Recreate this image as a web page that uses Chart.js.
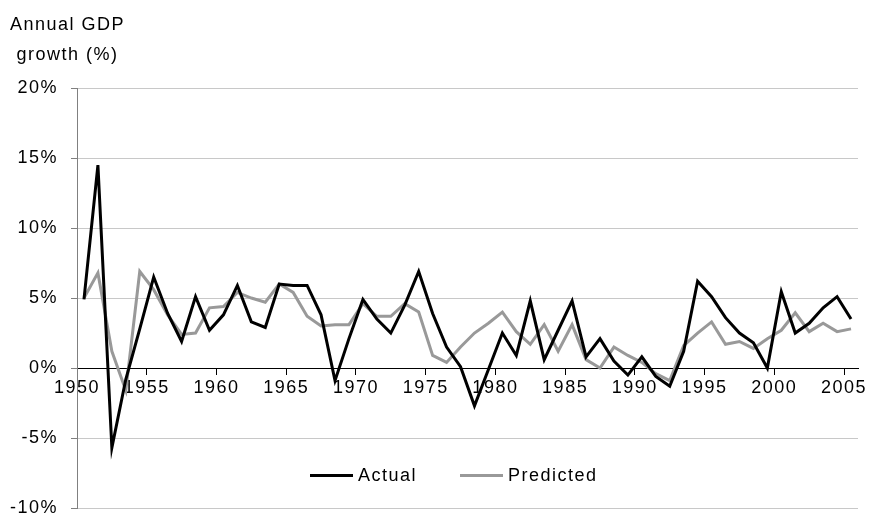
<!DOCTYPE html>
<html>
<head>
<meta charset="utf-8">
<script src="https://cdn.jsdelivr.net/npm/chart.js@4.4.1/dist/chart.umd.min.js"></script>
<style>
  body { margin: 0; background: #fff; }
  #wrap { position: relative; width: 876px; height: 515px; }
  #legend {
    position: absolute; left: 310px; top: 465px;
    display: flex; align-items: center;
    font: 18px "Liberation Sans", Arial, sans-serif; letter-spacing: 1.5px; color: #000;
  }
  #legend .item { display: flex; align-items: center; margin-right: 43px; }
  #legend .swatch { width: 43px; height: 3px; margin-right: 5px; }
</style>
</head>
<body>
<div id="wrap">
  <canvas id="graficoPIB" width="876" height="515"></canvas>
  <div id="legend"></div>
</div>
<script>
// Dados
var anos = [];
for (var a = 1950; a <= 2005; a++) anos.push(a);

var actual = [4.9, 14.5, -5.7, -0.8, 2.8, 6.5, 3.9, 1.9, 5.1, 2.7,
              3.8, 5.9, 3.3, 2.9, 6.0, 5.9, 5.9, 3.8, -0.9, 2.1,
              4.9, 3.5, 2.5, 4.5, 6.9, 3.9, 1.5, 0.1, -2.7, -0.1,
              2.5, 0.9, 4.8, 0.6, 2.7, 4.8, 0.8, 2.1, 0.5, -0.5,
              0.8, -0.6, -1.3, 1.2, 6.2, 5.1, 3.6, 2.5, 1.8, 0.0,
              5.45, 2.5, 3.2, 4.3, 5.1, 3.5];

var predicted = [5.0, 6.8, 1.2, -1.6, 6.9, 5.6, 3.8, 2.4, 2.5, 4.3,
                 4.4, 5.4, 5.0, 4.7, 6.0, 5.4, 3.7, 3.0, 3.1, 3.1,
                 4.6, 3.7, 3.7, 4.6, 4.0, 0.9, 0.4, 1.5, 2.5, 3.2,
                 4.0, 2.6, 1.7, 3.1, 1.2, 3.1, 0.6, 0.0, 1.5, 0.9,
                 0.4, -0.4, -0.9, 1.6, 2.5, 3.3, 1.7, 1.9, 1.4, 2.1,
                 2.7, 3.95, 2.6, 3.2, 2.6, 2.8];

var anosRotulo = [1950, 1955, 1960, 1965, 1970, 1975, 1980, 1985, 1990, 1995, 2000, 2005];
var ticksY = [-10, -5, 0, 5, 10, 15, 20];

var fonte = { family: '"Liberation Sans", Arial, sans-serif', size: 18 };

// espaçamento das letras no canvas
var espacamento = {
    id: 'espacamento',
    beforeUpdate: function (chart) { chart.ctx.letterSpacing = '1.5px'; },
    beforeDraw: function (chart) { chart.ctx.letterSpacing = '1.5px'; }
};

var ctxPIB = document.getElementById('graficoPIB').getContext('2d');
var grafico = new Chart(ctxPIB, {
    type: 'line',
    data: {
        datasets: [
            {
                label: 'Actual',
                data: anos.map(function (a, i) { return { x: a, y: actual[i] }; }),
                borderColor: '#000000',
                backgroundColor: '#000000',
                borderWidth: 3,
                pointRadius: 0,
                tension: 0
            },
            {
                label: 'Predicted',
                data: anos.map(function (a, i) { return { x: a, y: predicted[i] }; }),
                borderColor: '#999999',
                backgroundColor: '#999999',
                borderWidth: 3,
                pointRadius: 0,
                tension: 0
            }
        ]
    },
    plugins: [espacamento],
    options: {
        responsive: false,
        animation: false,
        layout: { padding: { left: 10, right: 18, top: 0, bottom: 0 } },
        plugins: {
            legend: { display: false },
            tooltip: { enabled: false },
            title: {
                display: true,
                text: ['Annual GDP', ' growth (%)'],
                align: 'start',
                color: '#000',
                font: { family: fonte.family, size: 18, weight: 'normal', lineHeight: 1.67 },
                padding: { top: 10, bottom: 18 }
            }
        },
        scales: {
            x: {
                type: 'linear',
                position: { y: 0 },
                min: 1949.5,
                max: 2005.5,
                afterBuildTicks: function (scale) {
                    // rótulos nas divisões entre categorias, como no Excel
                    scale.ticks = anosRotulo.map(function (a) { return { value: a - 0.5 }; });
                },
                ticks: {
                    autoSkip: false,
                    maxRotation: 0,
                    padding: 3,
                    color: '#000',
                    font: fonte,
                    callback: function (v) { return String(Math.round(v + 0.5)); }
                },
                grid: { drawOnChartArea: false, tickLength: 6, tickColor: '#000' },
                border: { color: '#000', width: 1 }
            },
            y: {
                min: -10,
                max: 20,
                afterBuildTicks: function (scale) {
                    scale.ticks = ticksY.map(function (v) { return { value: v }; });
                },
                afterFit: function (scale) {
                    scale.width = 67;
                    scale.paddingTop = 0;
                    scale.paddingBottom = 7;
                },
                ticks: {
                    padding: 13,
                    color: '#000',
                    font: fonte,
                    callback: function (v) { return v + '%'; }
                },
                grid: {
                    color: function (c) { return c.tick && c.tick.value === 0 ? '#000' : '#c8c8c8'; },
                    tickColor: '#808080',
                    tickLength: 6
                },
                border: { color: '#808080', width: 1 }
            }
        }
    }
});

// Legenda
var legenda = document.getElementById('legend');
grafico.data.datasets.forEach(function (ds) {
    var item = document.createElement('div');
    item.className = 'item';
    var sw = document.createElement('span');
    sw.className = 'swatch';
    sw.style.background = ds.borderColor;
    var txt = document.createElement('span');
    txt.textContent = ds.label;
    item.appendChild(sw);
    item.appendChild(txt);
    legenda.appendChild(item);
});
</script>
</body>
</html>
